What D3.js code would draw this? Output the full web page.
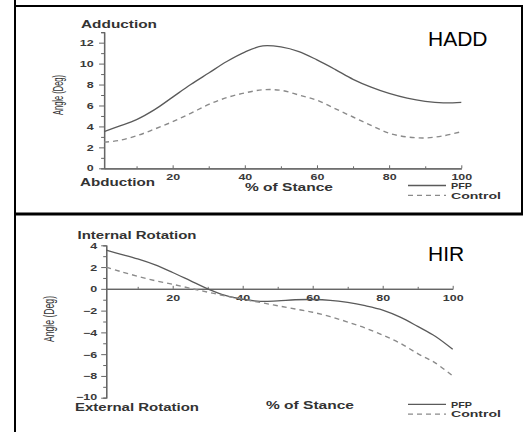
<!DOCTYPE html>
<html>
<head>
<meta charset="utf-8">
<script src="https://cdn.jsdelivr.net/npm/d3@7"></script>
<style>
  body { margin: 0; background: #fff; }
  svg { display: block; }
  text { font-family: "Liberation Sans", Arial, sans-serif; fill: #333; }
</style>
</head>
<body>
<div id="container"></div>
<script>
/* DATA */
const stance = [1, 5, 10, 15, 20, 25, 30, 35, 40, 45, 50, 55, 60, 65, 70, 75, 80, 85, 90, 95, 100];

// hip adduction (deg)
const haddPFP     = [3.5, 4.0, 4.65, 5.6, 6.8, 8.0, 9.1, 10.2, 11.1, 11.7, 11.6, 11.15, 10.35, 9.45, 8.5, 7.75, 7.15, 6.7, 6.4, 6.25, 6.3];
const haddControl = [2.5, 2.65, 3.1, 3.75, 4.45, 5.25, 6.1, 6.75, 7.2, 7.5, 7.45, 7.0, 6.5, 5.7, 4.9, 4.1, 3.35, 3.0, 2.9, 3.1, 3.5];

// hip internal rotation (deg)
const hirPFP     = [3.55, 3.2, 2.75, 2.2, 1.5, 0.75, 0.0, -0.6, -0.95, -1.15, -1.1, -1.0, -0.98, -1.05, -1.25, -1.55, -1.95, -2.6, -3.45, -4.35, -5.55];
const hirControl = [2.0, 1.6, 1.15, 0.75, 0.42, 0.05, -0.3, -0.65, -0.95, -1.25, -1.55, -1.85, -2.15, -2.55, -3.05, -3.6, -4.25, -5.0, -5.95, -6.8, -8.0];

const xTicks = [20, 40, 60, 80, 100];
const xMinor = [10, 30, 50, 70, 90];
const haddTicks = [0, 2, 4, 6, 8, 10, 12];
const haddMinor = [1, 3, 5, 7, 9, 11, 13];
const hirTicks = [-10, -8, -6, -4, -2, 0, 2, 4];
const hirMinor = [-9, -7, -5, -3, -1, 1, 3];

const seriesNames = ["PFP", "Control"];

/* SVG SETUP */
const width = 524, height = 432;
const svg = d3.select("#container").append("svg")
  .attr("width", width)
  .attr("height", height);

// frame
svg.append("rect").attr("x", 14).attr("y", 0).attr("width", 2).attr("height", height).attr("fill", "#000");
svg.append("rect").attr("x", 14).attr("y", 5).attr("width", 509).attr("height", 2).attr("fill", "#000");
svg.append("rect").attr("x", 521).attr("y", 5).attr("width", 2).attr("height", 210).attr("fill", "#000");
svg.append("rect").attr("x", 14).attr("y", 212.5).attr("width", 509).attr("height", 3).attr("fill", "#000");

// horizontally stretched label, fitted to a width
function label(g, str, x, y, w, size = 10) {
  return g.append("text")
    .attr("x", x).attr("y", y)
    .attr("font-size", size)
    .attr("font-weight", "bold")
    .attr("textLength", w)
    .attr("lengthAdjust", "spacingAndGlyphs")
    .text(str);
}

function drawPanel(p) {
  const g = svg.append("g");

  const x = d3.scaleLinear().domain([1, 100]).range(p.xRange);
  const y = d3.scaleLinear().domain(p.yDomain).range(p.yRange);

  /* AXES */
  // minor ticks first, in their own groups
  g.append("g").attr("transform", `translate(0,${y(0)})`)
    .call(d3.axisBottom(x).tickValues(xMinor).tickSize(-2).tickSizeOuter(0).tickFormat(""));
  g.append("g").attr("transform", `translate(${x(1)},0)`)
    .call(d3.axisLeft(y).tickValues(p.yMinor).tickSize(3).tickSizeOuter(0).tickFormat(""));

  const xg = g.append("g").attr("transform", `translate(0,${y(0)})`)
    .call(d3.axisBottom(x).tickValues(xTicks).tickSize(-3).tickSizeOuter(0));
  xg.selectAll("text")
    .attr("y", 0).attr("dy", null)
    .attr("transform", `translate(0,${p.xLabelOff}) scale(1.45,1)`);

  const yg = g.append("g").attr("transform", `translate(${x(1)},0)`)
    .call(d3.axisLeft(y).tickValues(p.yTicks).tickSize(5).tickSizeOuter(3));
  yg.selectAll("text")
    .attr("x", 0)
    .attr("dy", d => d === p.yDomain[0] ? "0.2em" : "0.35em")
    .attr("transform", `translate(${p.yLabelOff},0) scale(1.45,1)`);

  g.selectAll(".domain").attr("stroke", "#666").attr("stroke-width", 1.3);
  g.selectAll(".tick line").attr("stroke", "#666").attr("stroke-width", 1);
  g.selectAll(".tick text")
    .attr("font-size", 8.6).attr("font-weight", "bold")
    .style("fill", "#3a3a3a")
    .style("font-family", "Liberation Sans, Arial, sans-serif");

  /* LINES */
  const line = d3.line()
    .x((d, i) => x(stance[i]))
    .y(d => y(d))
    .curve(d3.curveCatmullRom);

  g.append("path").datum(p.pfp)
    .attr("d", line)
    .attr("fill", "none")
    .attr("stroke", "#5a5a5a")
    .attr("stroke-width", 1.3);

  g.append("path").datum(p.control)
    .attr("d", line)
    .attr("fill", "none")
    .attr("stroke", "#8a8a8a")
    .attr("stroke-width", 1.4)
    .attr("stroke-dasharray", "5,4");

  /* LABELS */
  label(g, p.top, p.topX, p.topY, p.topW);
  label(g, p.bottom, p.bottomX, p.bottomY, p.bottomW);
  label(g, "% of Stance", p.stanceX, p.stanceY, 88);

  g.append("text")
    .attr("transform", `translate(${p.angleX},${p.angleY}) rotate(-90) scale(1,1.5)`)
    .attr("x", -p.angleW / 2).attr("y", 3)
    .attr("font-size", 9.5)
    .attr("textLength", p.angleW)
    .attr("lengthAdjust", "spacingAndGlyphs")
    .text("Angle (Deg)");

  g.append("text")
    .attr("x", 428).attr("y", p.nameY)
    .attr("font-size", 21)
    .style("fill", "#000")
    .style("font-family", "Arial, 'Liberation Sans', sans-serif")
    .text(p.name);

  /* LEGEND */
  seriesNames.forEach((s, i) => {
    const ly = p.legendY + i * 9.8;
    g.append("line")
      .attr("x1", 408).attr("x2", 446)
      .attr("y1", ly).attr("y2", ly)
      .attr("stroke", i === 0 ? "#5a5a5a" : "#8a8a8a")
      .attr("stroke-width", 1.3)
      .attr("stroke-dasharray", i === 0 ? null : "5,4");
    label(g, s, 451, ly + 3.2, i === 0 ? 21 : 50, 9.5);
  });
}

drawPanel({
  name: "HADD", nameY: 46,
  pfp: haddPFP, control: haddControl,
  yDomain: [0, 13], yRange: [168.3, 32.2],
  yTicks: haddTicks, yMinor: haddMinor,
  xRange: [104.1, 461.3],
  xLabelOff: 11.2, yLabelOff: -10.5,
  top: "Adduction", topX: 81, topY: 27.5, topW: 76,
  bottom: "Abduction", bottomX: 80, bottomY: 185.5, bottomW: 75,
  stanceX: 245, stanceY: 190.5,
  angleX: 58, angleY: 95, angleW: 40,
  legendY: 185.5
});

drawPanel({
  name: "HIR", nameY: 261,
  pfp: hirPFP, control: hirControl,
  yDomain: [-10, 4], yRange: [397.7, 245.3],
  yTicks: hirTicks, yMinor: hirMinor,
  xRange: [106.2, 452.7],
  xLabelOff: 12, yLabelOff: -9,
  top: "Internal Rotation", topX: 77.5, topY: 238.7, topW: 119,
  bottom: "External Rotation", bottomX: 75, bottomY: 411, bottomW: 124,
  stanceX: 266, stanceY: 408.7,
  angleX: 49, angleY: 319, angleW: 46,
  legendY: 404.3
});
</script>
</body>
</html>
